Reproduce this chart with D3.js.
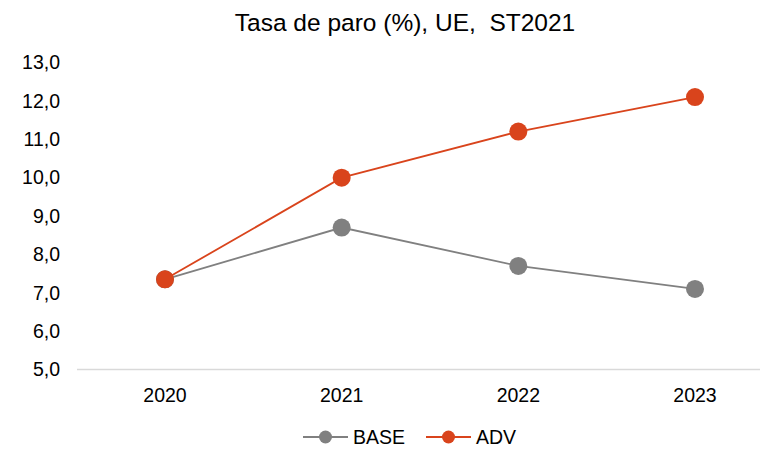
<!DOCTYPE html>
<html>
<head>
<meta charset="utf-8">
<script src="https://cdn.jsdelivr.net/npm/d3@7"></script>
<style>
  body { margin: 0; background: #fff; }
  svg { display: block; font-family: "Liberation Sans", Arial, sans-serif; }
</style>
</head>
<body>
<div id="chart"></div>
<script>
// Data
const years = ["2020", "2021", "2022", "2023"];
const baseValues = [7.35, 8.7, 7.7, 7.1];
const advValues = [7.35, 10.0, 11.2, 12.1];
const yTicks = [5, 6, 7, 8, 9, 10, 11, 12, 13];

const seriesNames = ["BASE", "ADV"];
const seriesColors = ["#808080", "#D9441C"];

const width = 760, height = 449;

const x = d3.scalePoint()
    .domain(years)
    .range([165, 695]);

const y = d3.scaleLinear()
    .domain([5, 13])
    .range([369.5, 62.5]);

const svg = d3.select("#chart").append("svg")
    .attr("width", width)
    .attr("height", height);

// title
svg.append("text")
    .attr("x", 405)
    .attr("y", 31)
    .attr("text-anchor", "middle")
    .attr("font-size", 24.5)
    .attr("fill", "#000")
    .attr("xml:space", "preserve")
    .text("Tasa de paro (%), UE,  ST2021");

// y axis labels (no line)
const fmt = d => d3.format(".1f")(d).replace(".", ",");
svg.append("g")
    .selectAll("text")
    .data(yTicks)
    .join("text")
    .attr("x", 60)
    .attr("y", d => y(d))
    .attr("dy", "0.35em")
    .attr("text-anchor", "end")
    .attr("font-size", 19.5)
    .attr("fill", "#000")
    .text(fmt);

// x axis
const xAxis = svg.append("g")
    .attr("transform", `translate(0,${y(5)})`);
xAxis.append("line")
    .attr("x1", 77)
    .attr("x2", 784)
    .attr("stroke", "#d9d9d9")
    .attr("stroke-width", 1.3);
xAxis.selectAll("text")
    .data(years)
    .join("text")
    .attr("x", d => x(d))
    .attr("y", 26)
    .attr("dy", "0.35em")
    .attr("text-anchor", "middle")
    .attr("font-size", 19.5)
    .attr("fill", "#000")
    .text(d => d);

// lines + markers
const series = [baseValues, advValues];
const line = d3.line()
    .x((d, i) => x(years[i]))
    .y(d => y(d));

series.forEach((vals, s) => {
    const g = svg.append("g");
    g.append("path")
        .datum(vals)
        .attr("fill", "none")
        .attr("stroke", seriesColors[s])
        .attr("stroke-width", 1.8)
        .attr("d", line);
    g.selectAll("circle")
        .data(vals)
        .join("circle")
        .attr("cx", (d, i) => x(years[i]))
        .attr("cy", d => y(d))
        .attr("r", 9)
        .attr("fill", seriesColors[s]);
});

// legend
const legendX = [303, 426];
const legend = svg.append("g")
    .selectAll("g")
    .data(seriesNames)
    .join("g")
    .attr("transform", (d, i) => `translate(${legendX[i]},437)`);
legend.append("line")
    .attr("x1", 0)
    .attr("x2", 45)
    .attr("stroke", (d, i) => seriesColors[i])
    .attr("stroke-width", 1.8);
legend.append("circle")
    .attr("cx", 22.5)
    .attr("r", 6.5)
    .attr("fill", (d, i) => seriesColors[i]);
legend.append("text")
    .attr("x", 50)
    .attr("dy", "0.35em")
    .attr("font-size", 19.5)
    .attr("fill", "#000")
    .text(d => d);
</script>
</body>
</html>
